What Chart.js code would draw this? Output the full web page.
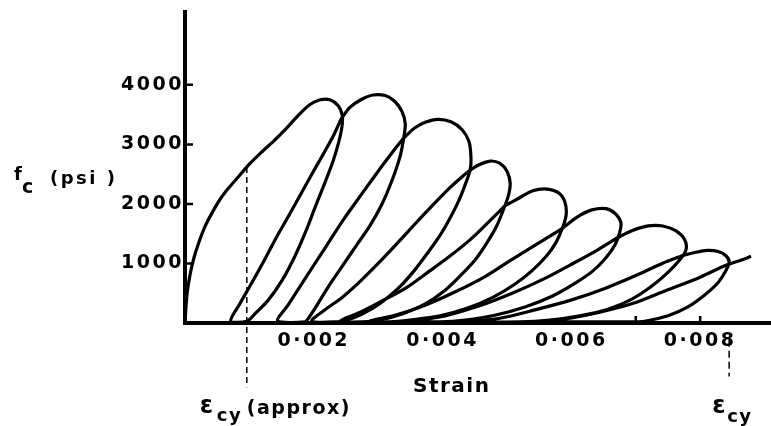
<!DOCTYPE html>
<html>
<head>
<meta charset="utf-8">
<script src="https://cdn.jsdelivr.net/npm/chart.js@4.4.0/dist/chart.umd.min.js"></script>
<style>
  html, body { margin: 0; padding: 0; background: #fff; }
</style>
</head>
<body>
<canvas id="mycanvas" width="771" height="426"></canvas>
<script>
var cycle1 = [
	[0, 0], [0.00003, 470], [0.00008, 820], [0.00014, 1100], [0.00022, 1370], [0.00031, 1620],
	[0.00042, 1850], [0.00054, 2070], [0.00068, 2270], [0.00084, 2470], [0.00101, 2680],
	[0.00120, 2880], [0.00140, 3080], [0.00160, 3300], [0.00177, 3500], [0.00194, 3670],
	[0.00210, 3750], [0.00225, 3750], [0.00238, 3650], [0.00244, 3500],
	[0.00244, 3320], [0.00239, 3050], [0.00230, 2720], [0.00217, 2350], [0.00203, 1970],
	[0.00188, 1550], [0.00171, 1130], [0.00151, 720], [0.00129, 380], [0.00110, 170], [0.00096, 30],
	[0.00071, 30], [0.00085, 320], [0.00104, 680], [0.00123, 1050], [0.00141, 1420], [0.00160, 1780],
	[0.00179, 2150], [0.00198, 2520], [0.00217, 2880], [0.00232, 3180], [0.00242, 3420]
];
var cycle2 = [
	[0.00242, 3420], [0.00256, 3620], [0.00273, 3750], [0.00292, 3830], [0.00311, 3820], [0.00326, 3720],
	[0.00337, 3550], [0.00342, 3350],
	[0.00340, 3130], [0.00334, 2800], [0.00321, 2380], [0.00306, 2000], [0.00287, 1630], [0.00266, 1300],
	[0.00244, 950], [0.00222, 600], [0.00205, 300], [0.00193, 100], [0.00186, 20],
	[0.00144, 30], [0.00160, 300], [0.00179, 620], [0.00200, 970], [0.00220, 1300], [0.00245, 1720],
	[0.00272, 2130], [0.00300, 2550], [0.00323, 2880], [0.00339, 3100]
];
var cycle3 = [
	[0.00339, 3100], [0.00356, 3270], [0.00373, 3370], [0.00393, 3420], [0.00413, 3380], [0.00430, 3250],
	[0.00441, 3050], [0.00444, 2800],
	[0.00443, 2580], [0.00436, 2350], [0.00425, 2050], [0.00411, 1750], [0.00396, 1470], [0.00377, 1180],
	[0.00356, 880], [0.00331, 580], [0.00303, 330], [0.00275, 150], [0.00252, 50], [0.00238, 20],
	[0.00197, 30], [0.00217, 220], [0.00244, 430], [0.00272, 700], [0.00300, 1000], [0.00328, 1320],
	[0.00356, 1650], [0.00384, 1970], [0.00411, 2270], [0.00438, 2530]
];
var cycle4 = [
	[0.00438, 2530], [0.00455, 2650], [0.00474, 2720], [0.00489, 2680], [0.00500, 2550], [0.00505, 2350], [0.00502, 2130],
	[0.00495, 1920], [0.00484, 1630], [0.00469, 1350], [0.00452, 1080], [0.00430, 820], [0.00404, 550],
	[0.00373, 320], [0.00337, 150], [0.00303, 50], [0.00275, 20],
	[0.00241, 30], [0.00272, 180], [0.00306, 370], [0.00342, 580], [0.00377, 850], [0.00411, 1120],
	[0.00443, 1400], [0.00470, 1680], [0.00497, 1970]
];
var cycle5 = [
	[0.00497, 1970], [0.00519, 2100], [0.00540, 2220], [0.00562, 2250], [0.00581, 2180], [0.00590, 2030], [0.00592, 1830],
	[0.00587, 1620], [0.00576, 1350], [0.00561, 1120], [0.00539, 880], [0.00512, 650], [0.00478, 430],
	[0.00439, 250], [0.00396, 120], [0.00349, 50], [0.00318, 20],
	[0.00287, 30], [0.00326, 130], [0.00373, 300], [0.00419, 520], [0.00466, 780], [0.00508, 1070],
	[0.00547, 1330], [0.00585, 1580]
];
var cycle6 = [
	[0.00585, 1580], [0.00609, 1780], [0.00632, 1900], [0.00654, 1920], [0.00669, 1830], [0.00677, 1680], [0.00675, 1520],
	[0.00668, 1320], [0.00654, 1100], [0.00634, 880], [0.00606, 670], [0.00570, 450], [0.00528, 270],
	[0.00481, 130], [0.00435, 50], [0.00396, 20],
	[0.00357, 30], [0.00404, 120], [0.00455, 280], [0.00508, 500], [0.00559, 750], [0.00606, 1020],
	[0.00641, 1230], [0.00671, 1430]
];
var cycle7 = [
	[0.00671, 1430], [0.00694, 1550], [0.00719, 1630], [0.00742, 1630], [0.00762, 1550], [0.00776, 1400], [0.00778, 1230],
	[0.00769, 1070], [0.00750, 850], [0.00725, 620], [0.00694, 400], [0.00657, 230], [0.00613, 120],
	[0.00567, 50], [0.00520, 20],
	[0.00443, 30], [0.00489, 80], [0.00543, 220], [0.00598, 380], [0.00652, 580], [0.00707, 830],
	[0.00741, 1000], [0.00772, 1130]
];
var cycle8 = [
	[0.00772, 1130], [0.00790, 1180], [0.00811, 1220], [0.00828, 1200], [0.00840, 1130], [0.00845, 1030],
	[0.00840, 880], [0.00828, 680], [0.00807, 470], [0.00781, 270], [0.00750, 120], [0.00714, 30], [0.00683, 20],
	[0.00559, 30], [0.00598, 80], [0.00644, 180], [0.00696, 330], [0.00748, 550], [0.00800, 770],
	[0.00840, 970], [0.00862, 1050], [0.00879, 1120]
];
// dashed markers for the yield strains
var approxYieldLine = [[0.00096, 2620], [0.00096, -1080]];
var yieldLine = [[0.00845, -280], [0.00845, -900]];

var xTickValues = [0.002, 0.004, 0.006, 0.008];
var xTickLabels = ['0·002', '0·004', '0·006', '0·008'];
var xMarkValues = [0.007, 0.008];
var yTickValues = [1000, 2000, 3000, 4000];
var yTickLabels = ['1000', '2000', '3000', '4000'];

var cycles = [cycle1, cycle2, cycle3, cycle4, cycle5, cycle6, cycle7, cycle8];

function toPoints(arr) {
	return arr.map(function (p) { return { x: p[0], y: p[1] }; });
}

var FONT = '"DejaVu Sans", sans-serif';

var datasets = cycles.map(function (c, i) {
	return {
		label: 'Cycle ' + (i + 1),
		data: toPoints(c),
		showLine: true,
		fill: false,
		borderColor: '#000',
		borderWidth: 3.2,
		pointRadius: 0,
		tension: 0.3
	};
});
datasets.push({
	label: 'eps cy approx',
	data: toPoints(approxYieldLine),
	showLine: true,
	borderColor: '#000',
	borderWidth: 1.5,
	borderDash: [6, 4],
	pointRadius: 0,
	tension: 0,
	clip: false
});
datasets.push({
	label: 'eps cy',
	data: toPoints(yieldLine),
	showLine: true,
	borderColor: '#000',
	borderWidth: 1.5,
	borderDash: [7, 4],
	pointRadius: 0,
	tension: 0,
	clip: false
});

var textPlugin = {
	id: 'textPlugin',
	beforeDraw: function (chart) {
		chart.ctx.letterSpacing = '2.5px';
	},
	afterDraw: function (chart) {
		var ctx = chart.ctx;
		var xs = chart.scales.x, ys = chart.scales.y;
		ctx.save();
		ctx.strokeStyle = '#000';
		ctx.fillStyle = '#000';
		// short inward tick marks
		ctx.lineWidth = 2.5;
		ctx.beginPath();
		yTickValues.forEach(function (v) {
			var py = ys.getPixelForValue(v);
			ctx.moveTo(xs.left, py);
			ctx.lineTo(xs.left + 8, py);
		});
		xMarkValues.forEach(function (v) {
			var px = xs.getPixelForValue(v);
			ctx.moveTo(px, ys.bottom);
			ctx.lineTo(px, ys.bottom - 7);
		});
		ctx.stroke();

		ctx.textAlign = 'left';
		ctx.textBaseline = 'alphabetic';
		ctx.letterSpacing = '2px';
		// y label
		ctx.font = 'bold 18px ' + FONT;
		ctx.fillText('f', 14, 180);
		ctx.font = 'bold 19px ' + FONT;
		ctx.fillText('c', 22, 193);
		ctx.font = 'bold 18px ' + FONT;
		ctx.letterSpacing = '2.5px';
		ctx.fillText('(psi )', 50, 184);
		ctx.letterSpacing = '1.5px';
		// x label
		ctx.font = 'bold 20px ' + FONT;
		ctx.fillText('Strain', 413, 392);
		// yield strain labels
		var xa = xs.getPixelForValue(approxYieldLine[0][0]);
		ctx.font = 'bold 24px ' + FONT;
		ctx.fillText('ε', xa - 47, 413);
		ctx.font = 'bold 18px ' + FONT;
		ctx.fillText('cy', xa - 30, 421);
		ctx.font = 'bold 19px ' + FONT;
		ctx.fillText('(approx)', xa + 0, 414);
		var xb = xs.getPixelForValue(yieldLine[0][0]);
		ctx.font = 'bold 24px ' + FONT;
		ctx.fillText('ε', xb - 17, 413);
		ctx.font = 'bold 18px ' + FONT;
		ctx.fillText('cy', xb - 2, 422);
		ctx.restore();
	}
};

var ctx = document.getElementById('mycanvas');
var chart = new Chart(ctx, {
	type: 'scatter',
	data: { datasets: datasets },
	options: {
		responsive: false,
		animation: false,
		devicePixelRatio: 1,
		layout: { padding: { top: 10, right: 0, bottom: 0, left: 0 } },
		plugins: {
			legend: { display: false },
			tooltip: { enabled: false }
		},
		scales: {
			x: {
				type: 'linear',
				min: 0,
				max: 0.0091,
				afterFit: function (s) { s.height = 103; },
				afterBuildTicks: function (s) {
					s.ticks = xTickValues.map(function (v) { return { value: v }; });
				},
				grid: { display: true, drawOnChartArea: false, drawTicks: false },
				border: { display: true, color: '#000', width: 4 },
				ticks: {
					autoSkip: false,
					maxRotation: 0,
					padding: 7,
					color: '#000',
					font: { family: 'DejaVu Sans', size: 19, weight: 'bold' },
					callback: function (v) {
						var i = xTickValues.indexOf(v);
						return i >= 0 ? xTickLabels[i] : '';
					}
				}
			},
			y: {
				type: 'linear',
				min: 0,
				max: 5217,
				afterFit: function (s) { s.width = 185; },
				afterBuildTicks: function (s) {
					s.ticks = yTickValues.map(function (v) { return { value: v }; });
				},
				grid: { display: true, drawOnChartArea: false, drawTicks: false },
				border: { display: true, color: '#000', width: 4 },
				ticks: {
					padding: 1,
					color: '#000',
					font: { family: 'DejaVu Sans', size: 19, weight: 'bold' },
					callback: function (v) {
						var i = yTickValues.indexOf(v);
						return i >= 0 ? yTickLabels[i] : '';
					}
				}
			}
		}
	},
	plugins: [textPlugin]
});
</script>
</body>
</html>
